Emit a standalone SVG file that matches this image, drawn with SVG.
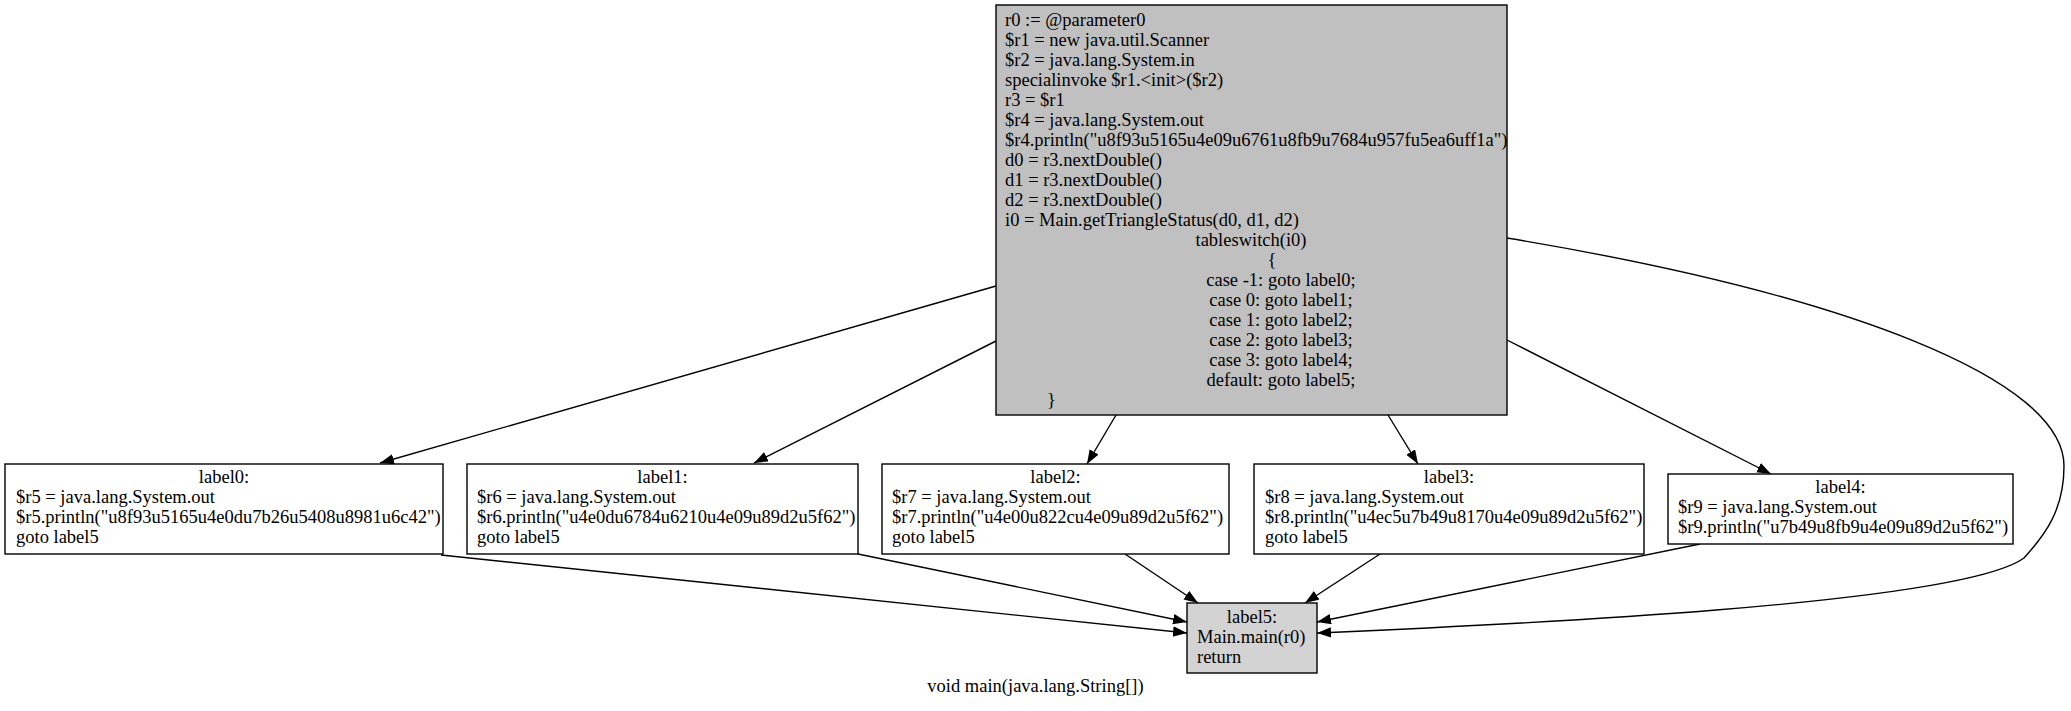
<svg xmlns="http://www.w3.org/2000/svg" width="2071" height="711" viewBox="0 0 2071 711">
<style>
text{font-family:"Liberation Serif","Times New Roman",serif;font-size:18.5px;fill:#000}
.c{text-anchor:middle}
.box{stroke:#000;stroke-width:1.4}
.edge{fill:none;stroke:#000;stroke-width:1.4}
</style>
<defs>
<marker id="arr" markerUnits="userSpaceOnUse" markerWidth="16" markerHeight="12" refX="14" refY="5.2" orient="auto">
<path d="M0,0 L14,5.2 L0,10.4 z" fill="#000"/>
</marker>
</defs>
<rect width="2071" height="711" fill="#fff"/>
<g id="connectors">
<path class="edge" marker-end="url(#arr)" d="M996,286 L380,463"/>
<path class="edge" marker-end="url(#arr)" d="M996,341 L754,463"/>
<path class="edge" marker-end="url(#arr)" d="M1116,415 L1087,464"/>
<path class="edge" marker-end="url(#arr)" d="M1388,415 L1418,464"/>
<path class="edge" marker-end="url(#arr)" d="M1507,340 L1771,474"/>
<path class="edge" marker-end="url(#arr)" d="M1507,238 C1850,295 2064,380 2064,466 C2064,510 2045,535 2024,558 C1960,605 1500,625 1317,633"/>
<path class="edge" marker-end="url(#arr)" d="M441,555 L1187,633"/>
<path class="edge" marker-end="url(#arr)" d="M858,554 L1187,622"/>
<path class="edge" marker-end="url(#arr)" d="M1125,554 L1198,603"/>
<path class="edge" marker-end="url(#arr)" d="M1380,554 L1305,603"/>
<path class="edge" marker-end="url(#arr)" d="M1700,544 L1317,622"/>
</g>
<g id="node-entry">
<rect class="box" x="996" y="5" width="511" height="410" fill="#c0c0c0"/>
<text x="1005" y="26">r0 := @parameter0</text>
<text x="1005" y="46">$r1 = new java.util.Scanner</text>
<text x="1005" y="66">$r2 = java.lang.System.in</text>
<text x="1005" y="86">specialinvoke $r1.&lt;init&gt;($r2)</text>
<text x="1005" y="106">r3 = $r1</text>
<text x="1005" y="126">$r4 = java.lang.System.out</text>
<text x="1005" y="146">$r4.println("u8f93u5165u4e09u6761u8fb9u7684u957fu5ea6uff1a")</text>
<text x="1005" y="166">d0 = r3.nextDouble()</text>
<text x="1005" y="186">d1 = r3.nextDouble()</text>
<text x="1005" y="206">d2 = r3.nextDouble()</text>
<text x="1005" y="226">i0 = Main.getTriangleStatus(d0, d1, d2)</text>
<text class="c" x="1251" y="246">tableswitch(i0)</text>
<text class="c" x="1272" y="266">{</text>
<text class="c" x="1281" y="286">case -1: goto label0;</text>
<text class="c" x="1281" y="306">case 0: goto label1;</text>
<text class="c" x="1281" y="326">case 1: goto label2;</text>
<text class="c" x="1281" y="346">case 2: goto label3;</text>
<text class="c" x="1281" y="366">case 3: goto label4;</text>
<text class="c" x="1281" y="386">default: goto label5;</text>
<text x="1047" y="406">}</text>
</g>
<g id="node-label0">
<rect class="box" x="5" y="464" width="438" height="90" fill="#fff"/>
<text class="c" x="224" y="483">label0:</text>
<text x="16" y="503">$r5 = java.lang.System.out</text>
<text x="16" y="523">$r5.println("u8f93u5165u4e0du7b26u5408u8981u6c42")</text>
<text x="16" y="543">goto label5</text>
</g>
<g id="node-label1">
<rect class="box" x="467" y="464" width="391" height="90" fill="#fff"/>
<text class="c" x="662.5" y="483">label1:</text>
<text x="477" y="503">$r6 = java.lang.System.out</text>
<text x="477" y="523">$r6.println("u4e0du6784u6210u4e09u89d2u5f62")</text>
<text x="477" y="543">goto label5</text>
</g>
<g id="node-label2">
<rect class="box" x="882" y="464" width="347" height="90" fill="#fff"/>
<text class="c" x="1055.5" y="483">label2:</text>
<text x="892" y="503">$r7 = java.lang.System.out</text>
<text x="892" y="523">$r7.println("u4e00u822cu4e09u89d2u5f62")</text>
<text x="892" y="543">goto label5</text>
</g>
<g id="node-label3">
<rect class="box" x="1254" y="464" width="390" height="90" fill="#fff"/>
<text class="c" x="1449" y="483">label3:</text>
<text x="1265" y="503">$r8 = java.lang.System.out</text>
<text x="1265" y="523">$r8.println("u4ec5u7b49u8170u4e09u89d2u5f62")</text>
<text x="1265" y="543">goto label5</text>
</g>
<g id="node-label4">
<rect class="box" x="1668" y="474" width="345" height="70" fill="#fff"/>
<text class="c" x="1840.5" y="493">label4:</text>
<text x="1678" y="513">$r9 = java.lang.System.out</text>
<text x="1678" y="533">$r9.println("u7b49u8fb9u4e09u89d2u5f62")</text>
</g>
<g id="node-label5">
<rect class="box" x="1187" y="603" width="130" height="70" fill="#d3d3d3"/>
<text class="c" x="1252" y="623">label5:</text>
<text x="1197" y="643">Main.main(r0)</text>
<text x="1197" y="663">return</text>
</g>
<text class="c" x="1035.5" y="692">void main(java.lang.String[])</text>
</svg>
